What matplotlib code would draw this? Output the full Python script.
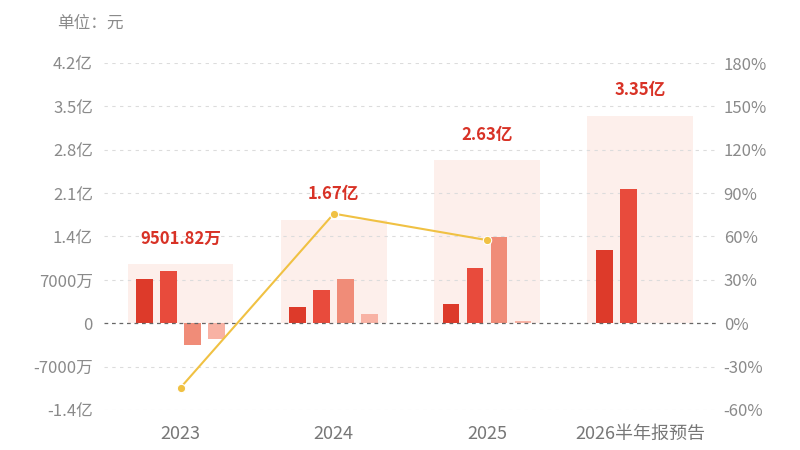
import matplotlib
matplotlib.use("Agg")
import matplotlib.pyplot as plt
import numpy as np
from matplotlib.ticker import FuncFormatter, MultipleLocator

plt.rcParams['font.family'] = ['Noto Sans CJK SC', 'DejaVu Sans']

# 数据 (单位: 亿元)
categories = ["2023", "2024", "2025", "2026半年报预告"]
totals = [0.950182, 1.67, 2.63, 3.35]
total_labels = ["9501.82万", "1.67亿", "2.63亿", "3.35亿"]
q1 = [0.714, 0.263, 0.311, 1.18]
q2 = [0.844, 0.537, 0.898, 2.17]
q3 = [-0.355, 0.714, 1.387, np.nan]
q4 = [-0.247, 0.150, 0.037, np.nan]
growth = [-44.5, 75.8, 57.5]  # 同比增长 %

bar_colors = ["#dd3a2a", "#e84b3c", "#f08c78", "#f8b2a4"]
bg_color = "#fdefeb"
line_color = "#f0c143"
text_gray = "#8a8a8a"

fig = plt.figure(figsize=(8, 4.5), dpi=100)
ax = fig.add_axes([0.13, 0.0889, 0.766, 0.7711])
ax2 = ax.twinx()

x = np.arange(len(categories))

# 背景柱 (全年合计)
ax.bar(x, totals, width=0.69, color=bg_color, zorder=1)

# 季度柱
offsets = [-0.235, -0.078, 0.078, 0.235]
for off, vals, c in zip(offsets, [q1, q2, q3, q4], bar_colors):
    ax.bar(x + off, vals, width=0.11, color=c, zorder=3)

# 合计标签
for xi, v, lab in zip(x, totals, total_labels):
    ax.annotate(lab, (xi, v), xytext=(0, 12), textcoords="offset points",
                ha="center", va="bottom", color="#d83226", fontsize=12,
                fontweight="bold", zorder=6)

# 网格线
for yv in np.arange(-1.4, 4.21, 0.7):
    if abs(yv) < 1e-9:
        ax.axhline(0, color="#666666", lw=0.9, ls=(0, (3, 3)), zorder=4)
    else:
        ax.axhline(yv, color="#dcdcdc", lw=0.8, ls=(0, (3, 4)), zorder=2)

ax.set_xlim(-0.5, 3.5)
ax.set_ylim(-1.4, 4.2)
ax.yaxis.set_major_locator(MultipleLocator(0.7))


def fmt_left(v, pos):
    if abs(v) < 1e-9:
        return "0"
    if abs(v) < 1:
        return f"{v * 10000:.0f}万"
    return f"{v:.1f}亿"


ax.yaxis.set_major_formatter(FuncFormatter(fmt_left))
ax.set_xticks(x)
ax.set_xticklabels(categories)

# 增长率折线
ax2.plot(x[:len(growth)], growth, color=line_color, lw=1.5, marker="o",
         markersize=6, markerfacecolor=line_color, markeredgecolor="white",
         markeredgewidth=0.8, zorder=5)
ax2.set_ylim(-60, 180)
ax2.yaxis.set_major_locator(MultipleLocator(30))
ax2.yaxis.set_major_formatter(FuncFormatter(lambda v, p: f"{v:.0f}%"))

for a in (ax, ax2):
    for s in a.spines.values():
        s.set_visible(False)
    a.tick_params(length=0, colors=text_gray, labelsize=12)
ax.tick_params(axis="y", pad=8)
ax2.tick_params(axis="y", pad=5)
ax.tick_params(axis="x", pad=11, labelsize=13, colors="#777777")

ax.set_zorder(ax2.get_zorder() - 1)
ax.patch.set_visible(False)

fig.text(0.071, 0.948, "单位：元", color=text_gray, fontsize=12, ha="left", va="center")

fig.savefig("out.png", dpi=100)
